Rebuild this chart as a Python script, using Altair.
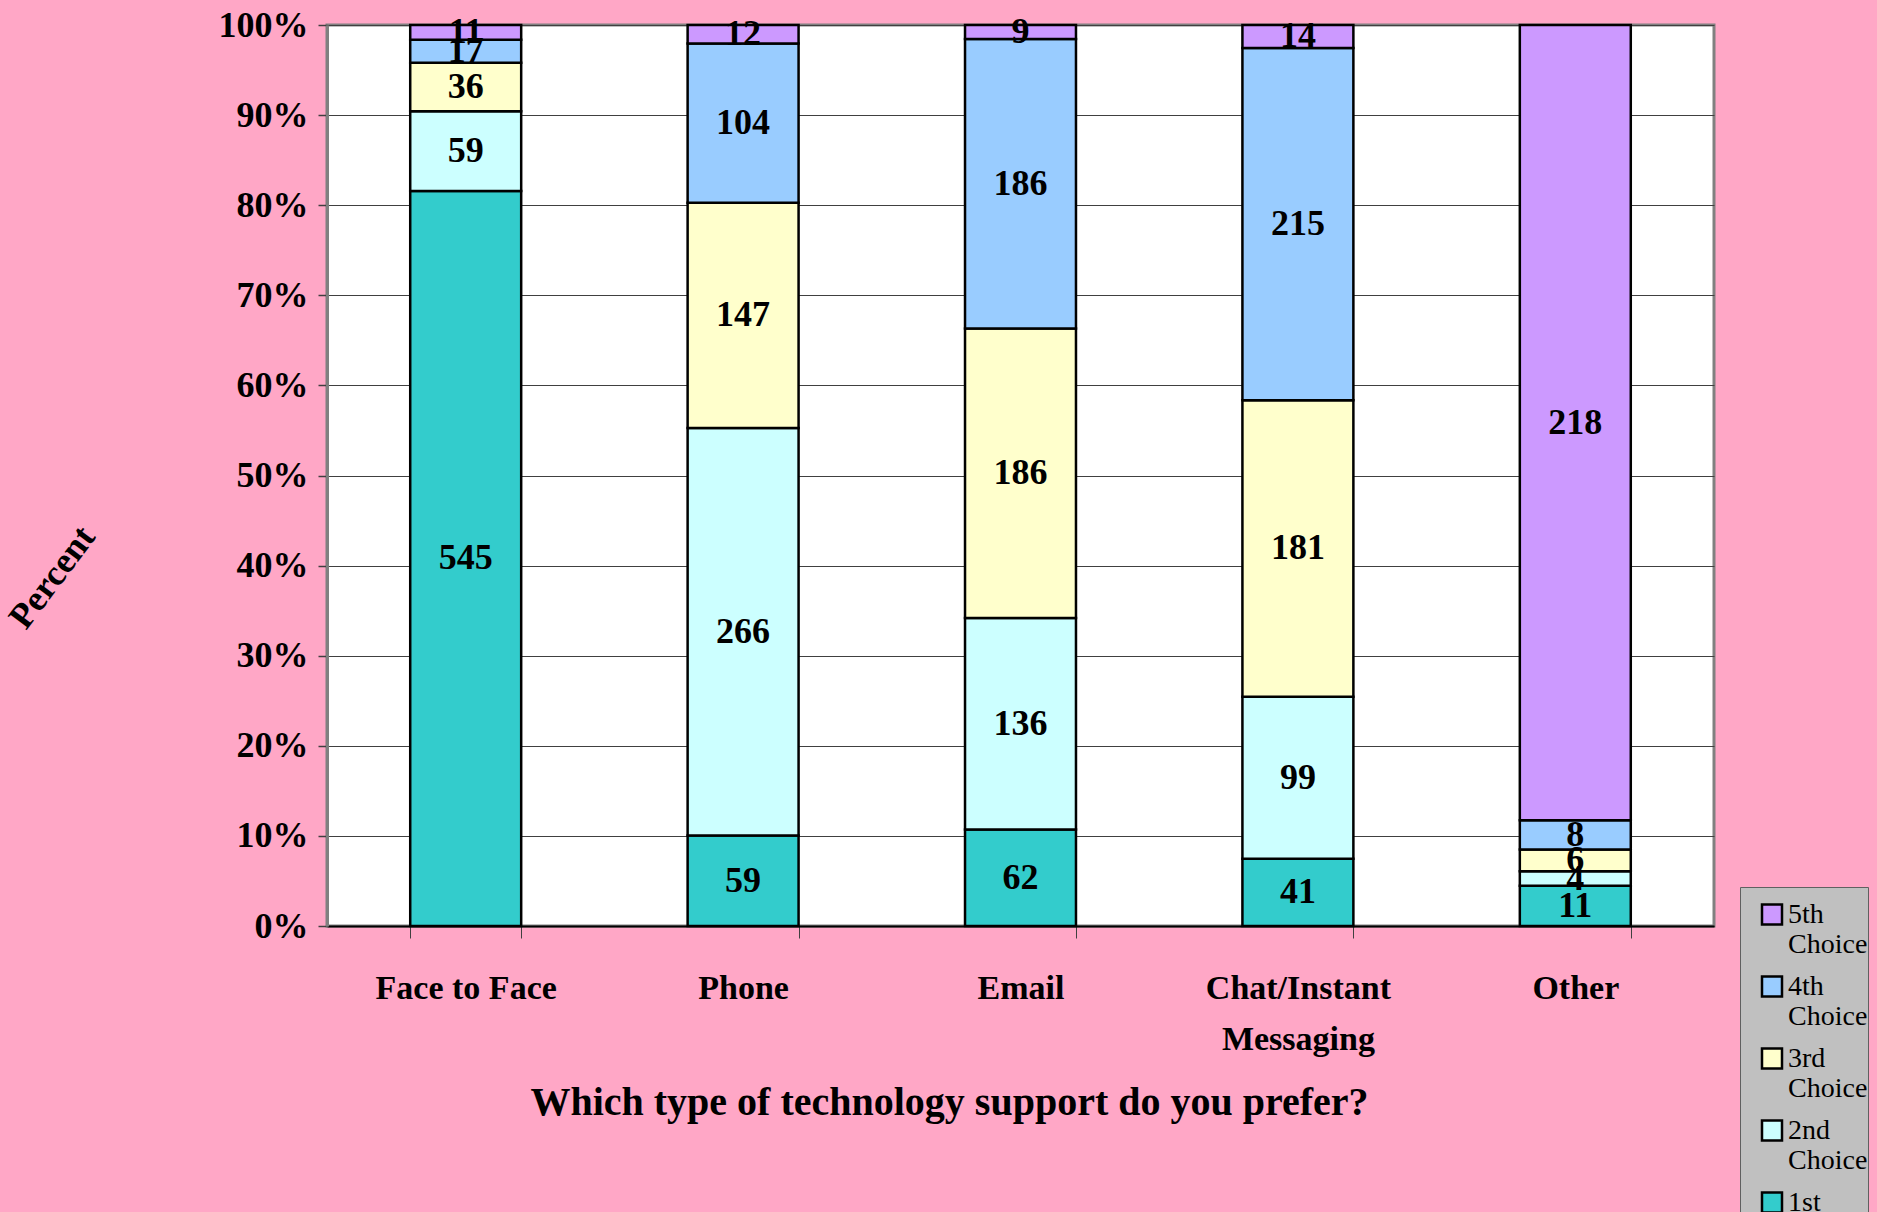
import altair as alt
import pandas as pd

# ---- data ----
categories = ["Face to Face", "Phone", "Email", "Chat/Instant Messaging", "Other"]
choices = ["1st Choice", "2nd Choice", "3rd Choice", "4th Choice", "5th Choice"]
first_choice = [545, 59, 62, 41, 11]
second_choice = [59, 266, 136, 99, 4]
third_choice = [36, 147, 186, 181, 6]
fourth_choice = [17, 104, 186, 215, 8]
fifth_choice = [11, 12, 9, 14, 218]
choice_colors = ["#33CCCC", "#CCFFFF", "#FFFFCC", "#99CCFF", "#CC99FF"]
y_ticks = [0, 0.1, 0.2, 0.3, 0.4, 0.5, 0.6, 0.7, 0.8, 0.9, 1.0]

series = [first_choice, second_choice, third_choice, fourth_choice, fifth_choice]
rows = []
for rank, (choice, vals) in enumerate(zip(choices, series), start=1):
    for cat, v in zip(categories, vals):
        rows.append({"category": cat, "choice": choice, "rank": rank, "count": v})
df = pd.DataFrame(rows)

legend_order = list(reversed(choices))
legend_colors = list(reversed(choice_colors))

FONT = "Liberation Serif"

base = (
    alt.Chart(df)
    .transform_joinaggregate(total="sum(count)", groupby=["category"])
    .transform_calculate(pct="datum.count / datum.total")
    .transform_stack(
        stack="pct",
        groupby=["category"],
        as_=["y0", "y1"],
        sort=[alt.SortField("rank", order="ascending")],
    )
    .transform_calculate(mid="(datum.y0 + datum.y1) / 2")
)

x_enc = alt.X(
    "category:N",
    sort=categories,
    title="Which type of technology support do you prefer?",
    scale=alt.Scale(paddingInner=0.6, paddingOuter=0.3),
    axis=alt.Axis(
        labelAngle=0,
        labelFont=FONT,
        labelFontSize=34,
        labelFontWeight="bold",
        labelColor="black",
        labelLineHeight=51,
        labelPadding=33,
        labelLimit=400,
        labelExpr="indexof(datum.label, '/') >= 0 ? split(datum.label, ' ') : datum.label",
        tickBand="extent",
        tickSize=12,
        tickColor="#404040",
        tickWidth=1,
        domainColor="black",
        domainWidth=2,
        titleFont=FONT,
        titleFontSize=40,
        titleFontWeight="bold",
        titleColor="black",
        titleX=622,
        titleY=188,
        titleAlign="center",
        titleBaseline="alphabetic",
    ),
)

y_axis = alt.Axis(
    values=y_ticks,
    format=".0%",
    grid=True,
    gridColor="#404040",
    gridWidth=1,
    domainColor="#808080",
    domainWidth=3,
    tickColor="#404040",
    tickSize=9,
    tickWidth=1.5,
    labelFont=FONT,
    labelFontSize=36,
    labelFontWeight="bold",
    labelColor="black",
    labelPadding=10,
    titleFont=FONT,
    titleFontSize=36,
    titleFontWeight="bold",
    titleColor="black",
    titleAngle=307,
    titleX=-275,
    titleY=552,
    titleAlign="center",
    titleBaseline="middle",
)

bars = base.mark_bar(stroke="black", strokeWidth=2.5).encode(
    x=x_enc,
    y=alt.Y("y0:Q", title="Percent", scale=alt.Scale(domain=[0, 1], nice=False), axis=y_axis),
    y2="y1:Q",
    color=alt.Color(
        "choice:N",
        scale=alt.Scale(domain=legend_order, range=legend_colors),
        legend=alt.Legend(
            title=None,
            orient="none",
            legendX=1413,
            legendY=862,
            direction="vertical",
            fillColor="#C0C0C0",
            strokeColor="#606060",
            padding=0,
            labelFont=FONT,
            labelFontSize=28,
            labelFontWeight="normal",
            labelColor="black",
            labelBaseline="top",
            labelExpr="split(datum.label, ' ')",
            labelLimit=300,
            labelOffset=2,
            symbolType="M-1,0.34 L1,0.34 L1,2.34 L-1,2.34 Z",
            symbolSize=400,
            symbolOffset=18,
            symbolStrokeColor="black",
            symbolStrokeWidth=2.5,
            symbolOpacity=1,
            rowPadding=-3,
        ),
    ),
)

labels = base.mark_text(
    font=FONT, fontSize=36, fontWeight="bold", color="black", align="center", baseline="middle"
).encode(
    x=alt.X("category:N", sort=categories, title="Which type of technology support do you prefer?"),
    y=alt.Y("mid:Q", title="Percent"),
    text="count:Q",
)

chart = (
    alt.layer(bars, labels)
    .properties(
        width=1387,
        height=901,
        autosize=alt.AutoSizeParams(type="none"),
        padding={"left": 327, "top": 25, "right": 163, "bottom": 286},
        background="#FFA7C6",
    )
    .configure_view(fill="white", stroke="#808080", strokeWidth=3)
)

chart.save("out.html", embed_options={"renderer": "svg", "actions": False})
